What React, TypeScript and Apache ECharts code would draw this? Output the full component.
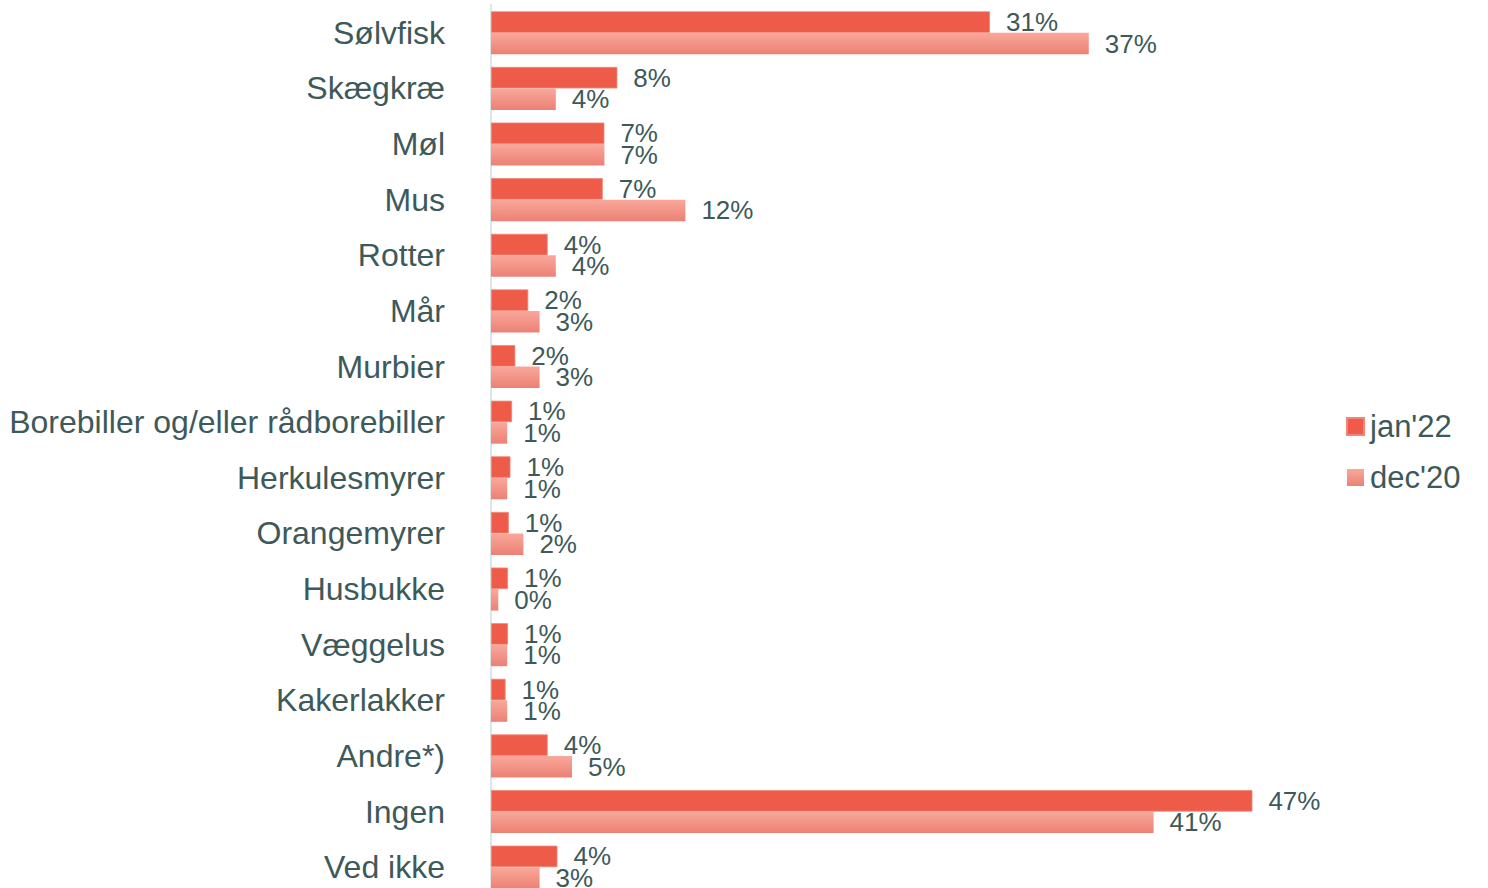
import React, { useEffect, useRef } from "react";
import * as echarts from "echarts";

const categories = [
  "Sølvfisk", "Skægkræ", "Møl", "Mus", "Rotter", "Mår", "Murbier",
  "Borebiller og/eller rådborebiller", "Herkulesmyrer", "Orangemyrer",
  "Husbukke", "Væggelus", "Kakerlakker", "Andre*)", "Ingen", "Ved ikke",
];
const jan22 = [30.8, 7.8, 7.0, 6.9, 3.5, 2.3, 1.5, 1.3, 1.2, 1.1, 1.05, 1.05, 0.9, 3.5, 47.0, 4.1];
const dec20 = [36.9, 4.0, 7.0, 12.0, 4.0, 3.0, 3.0, 1.0, 1.0, 2.0, 0.45, 1.0, 1.0, 5.0, 40.9, 3.0];
const seriesNames = ["jan'22", "dec'20"];

const TEXT = "#3E5959";
const FONT = "Liberation Sans, Arial, sans-serif";

export default function App() {
  const ref = useRef<HTMLDivElement>(null);
  useEffect(() => {
    if (!ref.current) return;
    const chart = echarts.init(ref.current, undefined, { renderer: "svg" });
    const label = {
      show: true,
      position: "right",
      distance: 16,
      color: TEXT,
      fontSize: 26,
      fontFamily: FONT,
      formatter: (p: any) => Math.round(p.value) + "%",
    };
    chart.setOption({
      animation: false,
      backgroundColor: "#ffffff",
      textStyle: { fontFamily: FONT },
      grid: { left: 491, top: 5, width: 810, height: 890, containLabel: false },
      legend: {
        orient: "vertical",
        left: 1341,
        top: 406,
        itemWidth: 17,
        itemHeight: 17,
        itemGap: 20,
        icon: "rect",
        textStyle: { color: TEXT, fontSize: 31, fontFamily: FONT, padding: [0, 0, 0, 1] },
        data: seriesNames,
      },
      xAxis: {
        type: "value",
        min: 0,
        max: 50,
        show: false,
      },
      yAxis: {
        type: "category",
        inverse: true,
        data: categories,
        axisLine: { show: true, lineStyle: { color: "#DCE6E6", width: 2 } },
        axisTick: { show: false },
        axisLabel: {
          color: TEXT,
          fontSize: 32,
          margin: 46,
          fontFamily: FONT,
        },
      },
      series: [
        {
          name: seriesNames[0],
          type: "bar",
          data: jan22,
          barWidth: 21.5,
          barGap: "0%",
          itemStyle: { color: "#EF5B49", borderColor: "#F28576", borderWidth: 0.8 },
          label,
        },
        {
          name: seriesNames[1],
          type: "bar",
          data: dec20,
          barWidth: 21.5,
          barGap: "0%",
          itemStyle: {
            color: new echarts.graphic.LinearGradient(0, 0, 0, 1, [
              { offset: 0, color: "#F9A89B" },
              { offset: 1, color: "#EB8174" },
            ]),
          },
          label,
        },
      ],
    });
    return () => chart.dispose();
  }, []);
  return (
    <div
      ref={ref}
      style={{ position: "fixed", left: 0, top: 0, width: 1488, height: 900 }}
    />
  );
}
